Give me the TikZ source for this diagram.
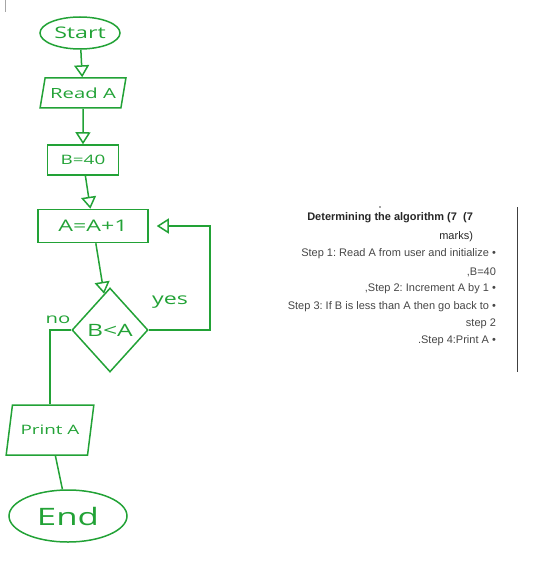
\documentclass[tikz,border=0pt]{standalone}
\usepackage{fontspec}
\setmainfont{Liberation Sans}
\newfontfamily\handfont[FakeStretch=1.45]{Open Sans}
\usetikzlibrary{shapes}
\usetikzlibrary{arrows.meta}
\usetikzlibrary{positioning}
\definecolor{ink}{RGB}{34,162,54}
\definecolor{note}{RGB}{70,70,70}
\tikzstyle{terminal}=[ellipse,draw=ink,text=ink,inner sep=0mm,font=\handfont\fontsize{16}{18}\selectfont]
\tikzstyle{io}=[trapezium,trapezium left angle=68,trapezium right angle=112,trapezium stretches=true,draw=ink,text=ink,inner sep=0mm,font=\handfont\fontsize{14}{16}\selectfont]
\tikzstyle{process}=[rectangle,draw=ink,text=ink,inner sep=0mm,font=\handfont\fontsize{15}{17}\selectfont]
\tikzstyle{decision}=[diamond,draw=ink,text=ink,inner sep=0mm,font=\handfont\fontsize{17}{19}\selectfont]
\tikzstyle{flow}=[ink]
\tikzstyle{arrow}=[ink,->,>={Triangle[open,length=12pt,width=15pt]}]
\tikzstyle{tag}=[text=ink,font=\handfont\fontsize{16}{18}\selectfont]
\tikzstyle{line}=[anchor=east,text=note,font=\fontsize{11}{13}\selectfont]
\tikzset{every picture/.style={
    line width=1.5pt
  }
}

\begin{document}
\frenchspacing
\begin{tikzpicture}[x=1pt,y=-1pt]
    \useasboundingbox (0,0) rectangle (535,561);
    \draw[gray!70,line width=0.8pt] (5,0) -- (5,12);
    % flowchart
    \node[terminal,minimum width=80,minimum height=32] at (80,33) (start) {Start};
    \node[io,minimum width=86,minimum height=30] at (83,93) (read) {Read A};
    \node[process,minimum width=71,minimum height=30,font=\handfont\fontsize{13}{15}\selectfont] at (83,160) (binit) {B=40};
    \node[process,minimum width=110,minimum height=33,font=\handfont\fontsize{16}{18}\selectfont] at (93,226) (incr) {A=A+1};
    \node[decision,minimum width=76,minimum height=84] at (110,330) (check) {B<A};
    \node[io,trapezium left angle=63,trapezium right angle=117,minimum width=88,minimum height=50,font=\handfont\fontsize{13}{15}\selectfont] at (50,430) (print) {Print A};
    \node[terminal,minimum width=118,minimum height=52,font=\handfont\fontsize{24}{26}\selectfont] at (68,516) (stop) {End};
    \coordinate (loop) at (210,226);
    \draw[arrow] (start) -- (read);
    \draw[arrow] (read) -- (binit);
    \draw[arrow] (binit) -- (incr);
    \draw[arrow] (incr) -- (check);
    \draw[arrow,shorten >=8pt] (check.east) -| (loop) -- (incr.east);
    \draw[flow] (check.west) -| (print.north);
    \draw[flow] (print) -- (stop);
    \node[tag] at (170,302) (yes) {yes};
    \node[tag,font=\handfont\fontsize{14}{16}\selectfont] at (58,320) (no) {no};
    % notes
    \fill[note] (380,207) circle (0.9);
    \node[line,font=\bfseries\fontsize{11}{13}\selectfont,text=black!85] at (477,218) (title) {Determining the algorithm (7~~(7};
    \node[line,text=black!85] at (477,237) (marks) {marks)};
    \node[line] at (500,254) (step1) {Step 1: Read A from user and initialize~\textbullet};
    \node[line] at (500,272) (step1b) {,B=40};
    \node[line] at (500,289) (step2) {,Step 2: Increment A by 1~\textbullet};
    \node[line] at (500,307) (step3) {Step 3: If B is less than A then go back to~\textbullet};
    \node[line] at (500,324) (step3b) {step 2};
    \node[line] at (500,341) (step4) {.Step 4:Print A~\textbullet};
    \draw[black!75,line width=0.9pt] (517,207) -- (517,372);
  \end{tikzpicture}
\end{document}
